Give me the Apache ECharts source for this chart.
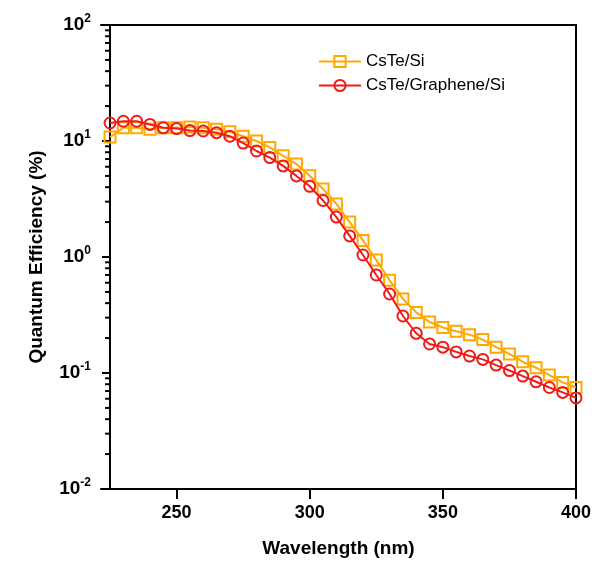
<!DOCTYPE html>
<html>
<head>
<meta charset="utf-8">
<script src="https://cdn.jsdelivr.net/npm/echarts@6/dist/echarts.min.js"></script>
<style>
html,body{margin:0;padding:0;background:#fff;}
#c{width:598px;height:563px;}
</style>
</head>
<body>
<div id="c"></div>
<script>
// Data
const wavelengths = [225,230,235,240,245,250,255,260,265,270,275,280,285,290,295,300,305,310,315,320,325,330,335,340,345,350,355,360,365,370,375,380,385,390,395,400];
const csteSi = [10.8,13.0,13.0,12.6,13.0,13.0,13.2,13.0,12.6,12.0,11.0,10.0,8.8,7.45,6.32,5.02,3.86,2.87,2.0,1.39,0.94,0.63,0.435,0.333,0.275,0.247,0.229,0.214,0.194,0.167,0.146,0.125,0.111,0.096,0.083,0.075];
const csteGrapheneSi = [14.3,14.8,14.8,13.9,13.0,12.8,12.3,12.2,11.8,11.0,9.6,8.2,7.2,6.1,5.0,4.07,3.07,2.21,1.52,1.04,0.70,0.48,0.31,0.22,0.178,0.167,0.152,0.140,0.131,0.117,0.105,0.094,0.084,0.075,0.068,0.061];
const xTickValues = [250,300,350,400];
const yMinorTicks = [];
[-2,-1,0,1].forEach(function(k){ for (let m=2;m<=9;m++) yMinorTicks.push(m*Math.pow(10,k)); });

const FONT = 'Liberation Sans, Arial, sans-serif';
const ORANGE = '#FFA800';
const RED = '#EE1B1B';
const xMin = 221.6, xMax = 400;

const chart = echarts.init(document.getElementById('c'), null, {renderer:'canvas'});

chart.setOption({
  animation:false,
  backgroundColor:'#fff',
  grid:{left:101,right:22,top:25,bottom:71,containLabel:false},
  legend:{
    orient:'vertical', left:313, top:48, itemWidth:42, itemHeight:14, itemGap:7,
    textStyle:{fontFamily:FONT,fontSize:17,color:'#000'},
    data:['CsTe/Si','CsTe/Graphene/Si']
  },
  xAxis:[{
    type:'value', min:xMin, max:xMax, position:'bottom',
    name:'Wavelength (nm)', nameLocation:'middle', nameGap:50,
    nameTextStyle:{fontFamily:FONT,fontSize:19,fontWeight:'bold',color:'#000'},
    axisLine:{show:true,lineStyle:{color:'#000',width:2}},
    axisTick:{show:true,length:10,lineStyle:{color:'#000',width:2},customValues:xTickValues},
    axisLabel:{show:true,margin:15,fontFamily:FONT,fontSize:18,fontWeight:'bold',color:'#000',customValues:xTickValues},
    splitLine:{show:false}
  },{
    type:'value', min:xMin, max:xMax, position:'top',
    axisLine:{show:true,lineStyle:{color:'#000',width:2}},
    axisTick:{show:false}, axisLabel:{show:false}, splitLine:{show:false}
  }],
  yAxis:[{
    type:'log', logBase:10, min:0.01, max:100, position:'left', offset:-9,
    name:'Quantum Efficiency (%)', nameLocation:'middle', nameGap:64,
    nameTextStyle:{fontFamily:FONT,fontSize:19,fontWeight:'bold',color:'#000'},
    axisLine:{show:true,lineStyle:{color:'#000',width:2}},
    axisTick:{show:true,length:8,lineStyle:{color:'#000',width:2}},
    axisLabel:{show:true,margin:19,
      formatter:function(v){ const e=Math.round(Math.log10(v)); return '{b|10}{s|'+e+'}'; },
      rich:{
        b:{fontFamily:FONT,fontSize:19,fontWeight:'bold',color:'#000'},
        s:{fontFamily:FONT,fontSize:12,fontWeight:'bold',color:'#000',verticalAlign:'top',padding:[0,0,12,0]}
      }
    },
    splitLine:{show:false}
  },{
    type:'log', logBase:10, min:0.01, max:100, position:'right',
    axisLine:{show:true,lineStyle:{color:'#000',width:2}},
    axisTick:{show:false}, axisLabel:{show:false}, splitLine:{show:false}
  }],
  series:[{
    name:'CsTe/Si', type:'line',
    data:wavelengths.map(function(w,i){return [w,csteSi[i]];}),
    symbol:'rect', symbolSize:11, showAllSymbol:true,
    lineStyle:{color:ORANGE,width:2},
    itemStyle:{color:'rgba(0,0,0,0)',borderColor:ORANGE,borderWidth:2},
    z:2
  },{
    name:'CsTe/Graphene/Si', type:'line',
    data:wavelengths.map(function(w,i){return [w,csteGrapheneSi[i]];}),
    symbol:'circle', symbolSize:11, showAllSymbol:true,
    lineStyle:{color:RED,width:2},
    itemStyle:{color:'rgba(0,0,0,0)',borderColor:RED,borderWidth:2},
    z:3
  },{
    type:'custom', silent:true, clip:false,
    data:yMinorTicks.map(function(v){return [wavelengths[0], v];}),
    renderItem:function(params, api){
      const p = api.coord([api.value(0), api.value(1)]);
      return {type:'line', shape:{x1:p[0]-5,y1:p[1],x2:p[0],y2:p[1]}, style:{stroke:'#000',lineWidth:2}};
    },
    z:5
  }]
});
</script>
</body>
</html>
